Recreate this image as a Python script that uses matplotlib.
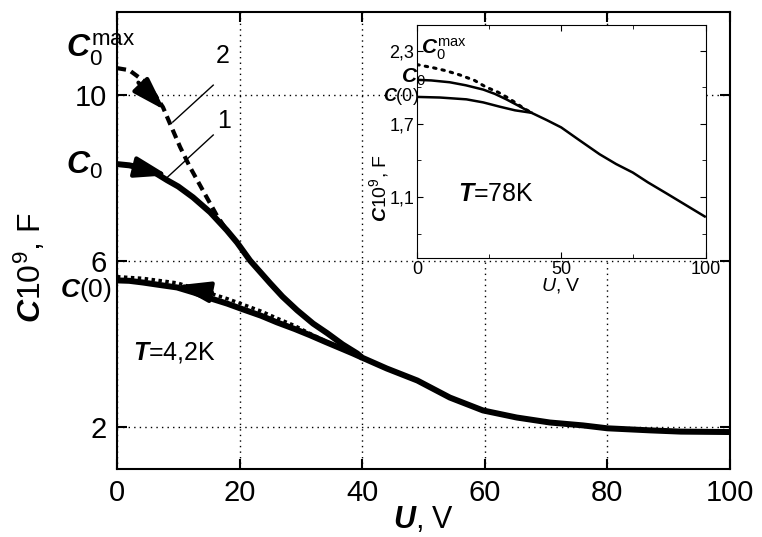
import matplotlib
matplotlib.use('Agg')
import matplotlib.pyplot as plt

plt.rcParams['font.family'] = ['Liberation Sans', 'DejaVu Sans']
plt.rcParams['mathtext.fontset'] = 'custom'
plt.rcParams['mathtext.it'] = 'Liberation Sans:italic:bold'
plt.rcParams['mathtext.rm'] = 'Liberation Sans'
plt.rcParams['mathtext.sf'] = 'Liberation Sans:italic'

# main plot, T = 4.2 K
u_c0 = [0, 2, 4.2, 6, 8.2, 10, 12.4, 15.2, 17.9, 19.6, 21.7, 23.5, 25, 27, 29.4, 32,
        34.3, 36.8, 39.2, 40, 44, 49, 54.3, 59.7, 65.2, 70.6, 76, 80, 87, 92, 100]
c_c0 = [8.34, 8.31, 8.24, 8.15, 7.95, 7.8, 7.54, 7.18, 6.75, 6.45, 6.02, 5.72, 5.47, 5.15,
        4.82, 4.5, 4.27, 4.0, 3.78, 3.68, 3.42, 3.13, 2.72, 2.41, 2.24, 2.12, 2.05, 1.98,
        1.93, 1.90, 1.89]

u_max = [0, 2, 4.2, 6, 7.5, 8.6, 10.3, 11.9, 14, 16.3, 17.9]
c_max = [10.65, 10.6, 10.36, 10.05, 9.71, 9.33, 8.75, 8.27, 7.71, 7.1, 6.75]

u_low = [0, 2, 4.2, 6.5, 9.8, 12.5, 15.2, 18, 20.6, 23.5, 26.1, 29, 31.5, 34, 36.9, 38.5, 40]
c_low = [5.54, 5.53, 5.49, 5.44, 5.37, 5.25, 5.11, 4.98, 4.84, 4.69, 4.53, 4.37, 4.22,
         4.06, 3.88, 3.78, 3.68]

u_lowd = [0, 4.2, 9.8, 12.5, 15.2, 18, 20.6, 23.5, 26.1, 29, 31.5, 34, 36.9]
c_lowd = [5.63, 5.59, 5.48, 5.36, 5.23, 5.1, 4.96, 4.8, 4.63, 4.45, 4.26, 4.08, 3.9]

# inset, T = 78 K
ui_max = [0, 5.5, 10, 14.9, 20, 24, 28, 31, 34, 36.8, 39.7]
ci_max = [2.185, 2.16, 2.135, 2.10, 2.055, 2.0, 1.96, 1.92, 1.875, 1.83, 1.79]

ui_c0 = [0, 5, 11.4, 17, 23, 27, 31, 35, 39.7, 45, 50, 56, 63.3, 69, 74.8, 80, 86.4, 92, 99.7]
ci_c0 = [2.06, 2.055, 2.04, 2.015, 1.98, 1.945, 1.90, 1.85, 1.79, 1.73, 1.67, 1.57, 1.45,
         1.37, 1.30, 1.22, 1.13, 1.05, 0.94]

ui_low = [0, 8, 17.2, 23, 28.7, 34, 39.7]
ci_low = [1.92, 1.915, 1.90, 1.875, 1.84, 1.81, 1.79]

fig = plt.figure(figsize=(7.62, 5.37), dpi=100)
ax = fig.add_axes([0.1535, 0.1266, 0.8045, 0.851])

ax.plot(u_c0, c_c0, color='k', lw=4.3, solid_capstyle='butt', solid_joinstyle='round', zorder=3)
ax.plot(u_max, c_max, color='k', lw=3, linestyle=(0, (2.2, 1.3)), zorder=3)
ax.plot(u_low, c_low, color='k', lw=4.3, solid_capstyle='butt', solid_joinstyle='round', zorder=3)
ax.plot(u_lowd, c_lowd, color='k', lw=2.5, linestyle=(0, (1, 1)), zorder=3)

arrow = dict(arrowstyle='-|>,head_length=1.0,head_width=0.32', color='k',
             lw=3, shrinkA=0, shrinkB=0, mutation_scale=20)
ax.annotate('', xy=(8.3, 8.07), xytext=(2.5, 8.28), arrowprops=arrow, zorder=4)
ax.annotate('', xy=(7.8, 9.64), xytext=(3.5, 10.3), arrowprops=arrow, zorder=4)
ax.annotate('', xy=(9.8, 5.42), xytext=(15.5, 5.25), arrowprops=arrow, zorder=4)

# leader lines for curve numbers
ax.plot([9.1, 15.7], [9.35, 10.24], color='k', lw=1)
ax.plot([8.2, 15.7], [8.02, 9.04], color='k', lw=1)
ax.text(17.3, 10.94, '2', fontsize=18, ha='center', va='center')
ax.text(17.5, 9.37, '1', fontsize=18, ha='center', va='center')

ax.text(2.6, 3.81, '$T$=4,2K', fontsize=18, ha='left', va='center')

ax.text(-8.3, 11.1, r'$C_0^{\mathrm{max}}$', fontsize=23, ha='left', va='center', clip_on=False)
ax.text(-8.3, 8.31, r'$C_0$', fontsize=23, ha='left', va='center', clip_on=False)
ax.text(-9.3, 5.3, r'$C$(0)', fontsize=19, ha='left', va='center', clip_on=False)

ax.set_xlim(0, 100)
ax.set_ylim(1, 12)
ax.set_xticks([0, 20, 40, 60, 80, 100])
ax.set_yticks([2, 6, 10])
ax.grid(True, color='k', linestyle=(0, (1, 3)), lw=1)
ax.tick_params(direction='in', length=7, width=1.5, labelsize=21, pad=7,
               top=True, right=True)
for s in ax.spines.values():
    s.set_linewidth(1.5)

ax.set_xlabel('$U$, V', fontsize=22)
ax.xaxis.set_label_coords(0.5, -0.112)
ax.xaxis.label.set_va('center')
ax.set_ylabel('$C$10$^9$, F', fontsize=23)
ax.yaxis.set_label_coords(-0.142, 0.44)
ax.yaxis.label.set_va('center')

# inset
axi = fig.add_axes([0.547, 0.5196, 0.379, 0.434])
axi.set_facecolor('white')
axi.plot(ui_max, ci_max, color='k', lw=2.2, linestyle=(0, (0.8, 2)),
         dash_capstyle='round')
axi.plot(ui_c0, ci_c0, color='k', lw=1.8)
axi.plot(ui_low, ci_low, color='k', lw=1.8)

axi.set_xlim(0, 100)
axi.set_ylim(0.6, 2.51)
axi.set_xticks([0, 50, 100])
axi.set_xticks([25, 75], minor=True)
axi.set_yticks([1.1, 1.7, 2.3])
axi.set_yticklabels(['1,1', '1,7', '2,3'])
axi.set_yticks([0.8, 1.4, 2.0], minor=True)
axi.tick_params(which='both', direction='in', top=True, right=True,
                labelsize=13, pad=2)
axi.tick_params(which='major', length=4)
axi.tick_params(which='minor', length=3)
for s in axi.spines.values():
    s.set_linewidth(0.8)

axi.text(14.2, 1.125, '$T$=78K', fontsize=18, ha='left', va='center')
axi.text(1.5, 2.31, r'$C_0^{\mathrm{max}}$', fontsize=15, ha='left', va='center')
axi.text(-5.5, 2.08, r'$C_0$', fontsize=15, ha='left', va='center', clip_on=False)
axi.text(-11.8, 1.92, r'$C$(0)', fontsize=13, ha='left', va='center', clip_on=False)

axi.set_xlabel(r'$\mathsf{U}$, V', fontsize=14)
axi.xaxis.set_label_coords(0.5, -0.12)
axi.xaxis.label.set_va('center')
axi.set_ylabel('$C$10$^9$, F', fontsize=14)
axi.yaxis.set_label_coords(-0.13, 0.3)
axi.yaxis.label.set_va('center')

fig.savefig('out.png', dpi=100)
